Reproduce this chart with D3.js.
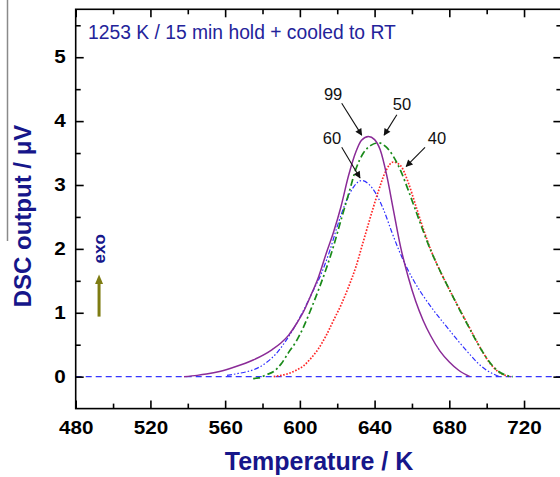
<!DOCTYPE html>
<html>
<head>
<meta charset="utf-8">
<script src="https://cdn.jsdelivr.net/npm/d3@7"></script>
<style>
  html, body { margin: 0; padding: 0; background: #fff; }
  svg { display: block; font-family: "Liberation Sans", Arial, Helvetica, sans-serif; }
</style>
</head>
<body>
<svg id="chart" width="560" height="477"></svg>
<script>
// DSC traces after 1253 K / 15 min hold, cooled to RT (temperature in K, signal in µV)
const t99 = [538, 545, 550, 557, 565, 575, 585, 590, 594, 598, 602, 606, 610, 614, 618, 622, 626, 630, 633, 636.7, 640, 643, 646.5, 650, 654, 658, 662, 666, 670, 675, 680, 685, 691];
const v99 = [0, 0.02, 0.04, 0.08, 0.15, 0.26, 0.42, 0.53, 0.65, 0.82, 1.02, 1.28, 1.56, 1.92, 2.26, 2.66, 3.14, 3.52, 3.70, 3.76, 3.71, 3.55, 3.15, 2.62, 2.02, 1.56, 1.18, 0.88, 0.64, 0.40, 0.23, 0.10, 0];

const t60 = [561, 567, 572, 577, 582, 587, 592, 597, 602, 606, 611, 616, 620, 625, 629, 633, 637, 641, 645, 649, 653, 657, 661, 665, 670, 675, 680, 685, 690, 695, 700, 707];
const v60 = [0.02, 0.05, 0.08, 0.13, 0.22, 0.35, 0.54, 0.77, 1.04, 1.28, 1.58, 1.97, 2.35, 2.76, 2.98, 3.07, 3.01, 2.85, 2.60, 2.28, 1.98, 1.72, 1.50, 1.31, 1.10, 0.91, 0.73, 0.55, 0.38, 0.22, 0.10, 0];

const t50 = [575, 578, 582, 586, 590, 594, 598, 602, 606, 610, 614, 618, 622, 626, 630, 634, 638, 642, 646, 650, 654, 658, 662, 666, 670, 674, 678, 682, 686, 690, 694, 698, 702, 706, 710, 714];
const v50 = [-0.03, -0.02, 0.03, 0.08, 0.20, 0.38, 0.55, 0.78, 1.06, 1.36, 1.68, 2.04, 2.45, 2.85, 3.25, 3.50, 3.62, 3.66, 3.60, 3.45, 3.22, 2.92, 2.60, 2.28, 1.98, 1.72, 1.48, 1.25, 1.02, 0.80, 0.58, 0.38, 0.21, 0.09, 0.025, 0];

const t40 = [586, 590, 594, 598, 602, 606, 610, 614, 618, 622, 626, 630, 634, 638, 642, 646, 650, 654, 658, 662, 666, 670, 674, 678, 682, 686, 690, 694, 698, 702, 706, 710, 713];
const v40 = [0, 0.02, 0.05, 0.10, 0.17, 0.29, 0.44, 0.64, 0.88, 1.12, 1.40, 1.72, 2.12, 2.52, 2.90, 3.22, 3.36, 3.30, 3.04, 2.68, 2.32, 1.99, 1.72, 1.48, 1.25, 1.03, 0.81, 0.59, 0.38, 0.20, 0.08, 0.02, 0];

// axis ticks
const xMajor = [480, 520, 560, 600, 640, 680, 720];
const xMinor = [500, 540, 580, 620, 660, 700, 740];
const yMajor = [0, 1, 2, 3, 4, 5];
const yMinor = [0.5, 1.5, 2.5, 3.5, 4.5, 5.5];

// peak annotations: label position and arrow (tail -> head), in data units
const annoText  = ["99", "50", "60", "40"];
const annoLabel = [[617.8, 4.42], [654.7, 4.26], [617.2, 3.73], [673.4, 3.73]];
const annoTail  = [[622.4, 4.28], [651.9, 4.10], [622.4, 3.59], [667.0, 3.59]];
const annoHead  = [[633.1, 3.78], [645.1, 3.78], [632.2, 3.11], [656.9, 3.29]];

const svg = d3.select("#chart");
const x = d3.scaleLinear().domain([480, 740]).range([75.7, 561.4]);
const y = d3.scaleLinear().domain([-0.5, 5.75]).range([408.6, 9.3]);

const navy = "#16168a";

const defs = svg.append("defs");
defs.append("marker")
  .attr("id", "ah").attr("viewBox", "0 0 10 10")
  .attr("refX", 9).attr("refY", 5)
  .attr("markerWidth", 9).attr("markerHeight", 7)
  .attr("markerUnits", "userSpaceOnUse")
  .attr("orient", "auto")
  .append("path").attr("d", "M0,0 L10,5 L0,10 z").attr("fill", "#111");

// plot clip
defs.append("clipPath").attr("id", "plotclip")
  .append("rect")
  .attr("x", x(480)).attr("y", y(5.75))
  .attr("width", x(740) - x(480)).attr("height", y(-0.5) - y(5.75));

// zero baseline
svg.append("line")
  .attr("x1", x(480)).attr("x2", x(740))
  .attr("y1", y(0)).attr("y2", y(0))
  .attr("stroke", "#3535ff").attr("stroke-width", 1.3)
  .attr("stroke-dasharray", "6,4");

const line = d3.line()
  .x(d => x(d[0])).y(d => y(d[1]))
  .curve(d3.curveMonotoneX);

const series = [
  { t: t60, v: v60, color: "#2f2fff", width: 1.2, dash: "5,2,1.5,2,1.5,2" },
  { t: t40, v: v40, color: "#ff2626", width: 1.7, dash: "1.6,1.6" },
  { t: t50, v: v50, color: "#1a8a1a", width: 1.7, dash: "7,3,2,3" },
  { t: t99, v: v99, color: "#8a2b97", width: 1.5, dash: null }
];

const gLines = svg.append("g").attr("clip-path", "url(#plotclip)");
series.forEach(s => {
  gLines.append("path")
    .datum(s.t.map((t, i) => [t, s.v[i]]))
    .attr("d", line)
    .attr("fill", "none")
    .attr("stroke", s.color)
    .attr("stroke-width", s.width)
    .attr("stroke-dasharray", s.dash);
});

// axes (ticks point inward); tick numbers are drawn slightly widened
function styleAxis(g) {
  g.select(".domain").remove();
  g.selectAll(".tick line").attr("stroke", "#000").attr("stroke-width", 1.6);
  g.selectAll(".tick text")
    .attr("fill", "#000")
    .attr("transform", "scale(1.18,1)")
    .style("font-size", "17.5px")
    .style("font-weight", "bold");
}

svg.append("g").attr("transform", `translate(0,${y(-0.5)})`)
  .call(d3.axisBottom(x).tickValues(xMajor).tickSize(-8).tickPadding(13).tickFormat(d3.format("d")))
  .call(styleAxis);
svg.append("g").attr("transform", `translate(0,${y(-0.5)})`)
  .call(d3.axisBottom(x).tickValues(xMinor).tickSize(-5).tickFormat(""))
  .call(styleAxis);
svg.append("g").attr("transform", `translate(0,${y(5.75)})`)
  .call(d3.axisTop(x).tickValues(xMajor).tickSize(-8).tickFormat(""))
  .call(styleAxis);
svg.append("g").attr("transform", `translate(0,${y(5.75)})`)
  .call(d3.axisTop(x).tickValues(xMinor).tickSize(-5).tickFormat(""))
  .call(styleAxis);

svg.append("g").attr("transform", `translate(${x(480)},0)`)
  .call(d3.axisLeft(y).tickValues(yMajor).tickSize(-8).tickPadding(8.5).tickFormat(d3.format("d")))
  .call(styleAxis);
svg.append("g").attr("transform", `translate(${x(480)},0)`)
  .call(d3.axisLeft(y).tickValues(yMinor).tickSize(-5).tickFormat(""))
  .call(styleAxis);
svg.append("g").attr("transform", `translate(${x(740)},0)`)
  .call(d3.axisRight(y).tickValues(yMajor).tickSize(-8).tickFormat(""))
  .call(styleAxis);
svg.append("g").attr("transform", `translate(${x(740)},0)`)
  .call(d3.axisRight(y).tickValues(yMinor).tickSize(-5).tickFormat(""))
  .call(styleAxis);

// frame
svg.append("rect")
  .attr("x", x(480)).attr("y", y(5.75))
  .attr("width", x(740) - x(480)).attr("height", y(-0.5) - y(5.75))
  .attr("fill", "none").attr("stroke", "#000").attr("stroke-width", 1.6);

// heading inside the plot
svg.append("text")
  .attr("x", 88).attr("y", 38.5)
  .attr("fill", "#23239a")
  .style("font-size", "19.3px")
  .text("1253 K / 15 min hold + cooled to RT");

// peak labels and arrows
annoText.forEach((txt, i) => {
  svg.append("line")
    .attr("x1", x(annoTail[i][0])).attr("y1", y(annoTail[i][1]))
    .attr("x2", x(annoHead[i][0])).attr("y2", y(annoHead[i][1]))
    .attr("stroke", "#111").attr("stroke-width", 1.1)
    .attr("marker-end", "url(#ah)");
  svg.append("text")
    .attr("x", x(annoLabel[i][0])).attr("y", y(annoLabel[i][1]))
    .attr("text-anchor", "middle").attr("dominant-baseline", "central")
    .attr("fill", "#111")
    .style("font-size", "16.5px")
    .text(txt);
});

// exo direction marker
const exoX = x(492.5);
svg.append("line")
  .attr("x1", exoX).attr("x2", exoX)
  .attr("y1", y(0.94)).attr("y2", y(1.45))
  .attr("stroke", "#7e7c12").attr("stroke-width", 3);
svg.append("path")
  .attr("d", `M${exoX - 4},${y(1.45)} L${exoX + 4},${y(1.45)} L${exoX},${y(1.6)} Z`)
  .attr("fill", "#7e7c12");
svg.append("text")
  .attr("transform", `translate(${exoX + 6},${y(2.0)}) rotate(-90)`)
  .attr("text-anchor", "middle")
  .attr("fill", navy)
  .style("font-size", "17px").style("font-weight", "bold")
  .text("exo");

// axis titles
svg.append("text")
  .attr("x", 319).attr("y", 470)
  .attr("text-anchor", "middle")
  .attr("fill", navy)
  .style("font-size", "25px").style("font-weight", "bold")
  .text("Temperature / K");

svg.append("text")
  .attr("transform", "translate(31,216) rotate(-90)")
  .attr("text-anchor", "middle")
  .attr("fill", navy)
  .style("font-size", "24px").style("font-weight", "bold")
  .text("DSC output / \u03bcV");

// thin rule at the far left
svg.append("line")
  .attr("x1", 7.5).attr("x2", 7.5).attr("y1", 0).attr("y2", 241)
  .attr("stroke", "#8a8a8a").attr("stroke-width", 1.5);
</script>
</body>
</html>
